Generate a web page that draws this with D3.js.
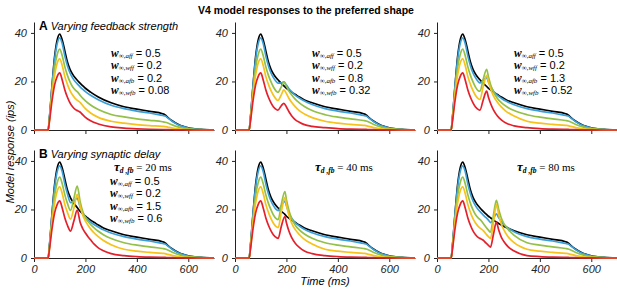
<!DOCTYPE html>
<html>
<head>
<meta charset="utf-8">
<script src="https://cdnjs.cloudflare.com/ajax/libs/d3/7.8.5/d3.min.js"></script>
<style>
body { margin: 0; background: #fff; }
</style>
</head>
<body>
<div id="chart"></div>
<script>
var sans = '"Liberation Sans", Arial, sans-serif';
var serif = '"Liberation Serif", "DejaVu Serif", serif';

// colours: no extra feedback, then increasing feedforward/feedback strength
var colours = ['#000000', '#3a9fd8', '#93c047', '#f7c219', '#e4202a'];

// shared onset (ms) and values
var riseT = [0, 50, 55, 60, 70, 80, 90, 100];
var riseVals = [
    [0, 0, 0, 5, 18, 30, 37, 39.5],
    [0, 0, 0, 5, 18, 29, 35.5, 38],
    [0, 0, 0, 4.5, 16, 25.5, 31, 33.3],
    [0, 0, 0, 4, 14.5, 22.5, 27.5, 29.3],
    [0, 0, 0, 3.5, 12, 18.5, 22, 23.5]
];

// offset decay (ms)
var tailT = [350, 400, 450, 500, 510, 520, 540, 560, 580, 600, 650, 700];
var tailA = [
    [9.6, 8.6, 7.7, 6.7, 6.2, 5.2, 3.6, 2.4, 1.5, 0.9, 0.25, 0.05],
    [8.8, 7.8, 7.0, 6.0, 5.8, 5.0, 3.4, 2.2, 1.4, 0.8, 0.2, 0.04],
    [5.4, 4.6, 4.0, 3.4, 3.2, 2.9, 2.0, 1.3, 0.8, 0.5, 0.12, 0.02],
    [2.8, 2.2, 1.8, 1.5, 1.4, 1.2, 0.8, 0.5, 0.3, 0.18, 0.04, 0],
    [0.8, 0.5, 0.3, 0.2, 0.18, 0.15, 0.1, 0.06, 0.04, 0.02, 0, 0]
];
var tailFb = [
    [9.6, 8.6, 7.7, 6.7, 6.2, 5.2, 3.6, 2.4, 1.5, 0.9, 0.25, 0.05],
    [8.8, 7.8, 7.0, 6.0, 5.8, 5.0, 3.4, 2.2, 1.4, 0.8, 0.2, 0.04],
    [6.3, 5.3, 4.6, 3.9, 3.7, 3.3, 2.3, 1.5, 0.9, 0.55, 0.13, 0.02],
    [3.6, 2.8, 2.3, 1.9, 1.8, 1.5, 1.0, 0.6, 0.38, 0.22, 0.05, 0],
    [1.0, 0.6, 0.38, 0.25, 0.22, 0.18, 0.12, 0.07, 0.04, 0.02, 0, 0]
];

// middle part of each panel (ms and ips)
var timesA = [110, 120, 130, 140, 150, 160, 170, 180, 190, 200, 220, 250, 300];
var midA = [
    [37, 32.5, 28, 25, 23, 21.5, 20.3, 19.2, 18.2, 17.2, 15.6, 13.6, 11.2],
    [35.5, 30.5, 26.5, 23.5, 21.5, 20, 18.8, 17.7, 16.7, 15.8, 14.3, 12.5, 10.2],
    [30.5, 26, 22.5, 19.8, 17.8, 16.5, 15.6, 14.2, 13, 12, 10.3, 8.4, 6.4],
    [26.5, 22, 18.8, 16.2, 14.4, 13, 12.1, 11.3, 10, 8.8, 7, 5.2, 3.6],
    [20.5, 16.5, 13.5, 11.2, 9.6, 8.5, 7.9, 7.3, 6.2, 5.2, 3.8, 2.5, 1.3]
];

var timesB = [110, 120, 130, 140, 150, 160, 167, 180, 190, 200, 210, 220, 235, 250, 270, 300];
var midB = [
    [37, 32.5, 28, 25, 23, 21.5, 20.7, 19.2, 18.2, 17.2, 16.4, 15.6, 14.6, 13.6, 12.4, 11.2],
    [35.5, 30.5, 26.5, 23.5, 21.5, 20, 19.3, 19.4, 19.8, 18.5, 17, 15.8, 14.3, 13.2, 11.9, 10.5],
    [30.5, 26, 22.5, 19.8, 17.6, 16, 15.5, 17.8, 19.8, 18, 16, 14.5, 12.6, 11.2, 9.7, 8.0],
    [26.5, 22, 18.8, 16.2, 14.2, 12.7, 12.2, 14.5, 16.5, 15, 13, 11.4, 9.5, 8, 6.6, 5.1],
    [20.5, 16.5, 13.5, 11.2, 9.5, 8.5, 8.2, 10, 11, 9.5, 7.5, 5.9, 4.2, 3.2, 2.2, 1.5]
];

var timesC = [110, 120, 130, 140, 150, 160, 167, 180, 193, 200, 210, 220, 235, 250, 270, 300];
var midC = [
    [37, 32.5, 28, 25, 23, 21.5, 20.7, 19.2, 18, 17.2, 16.4, 15.6, 14.6, 13.6, 12.4, 11.2],
    [35.5, 30.5, 26.5, 23.5, 21.5, 20, 19.4, 20.5, 21.6, 19.8, 17.6, 16, 14.3, 13.1, 11.8, 10.4],
    [30.5, 26, 22.5, 19.8, 17.6, 16.2, 16, 21, 25, 22, 18.2, 15.6, 13, 11.3, 9.7, 8],
    [26.5, 22, 18.8, 16.2, 14.2, 12.9, 12.6, 18, 22.5, 20, 16.5, 14, 11.4, 9.5, 7.6, 5.8],
    [20.5, 16.5, 13.5, 11.2, 9.5, 8.5, 8.2, 12.5, 16, 13.5, 10.5, 8.2, 5.8, 4.2, 2.8, 1.7]
];

var timesD = [110, 120, 130, 142, 155, 168, 180, 190, 200, 210, 220, 235, 250, 270, 300];
var midD = [
    [37, 32.5, 28, 24.8, 22.6, 20.8, 19.2, 18.2, 17.2, 16.4, 15.6, 14.6, 13.6, 12.4, 11.2],
    [35.5, 30.5, 26.5, 22.8, 23.3, 24.7, 20.8, 18.5, 16.9, 15.8, 14.8, 13.7, 12.8, 11.6, 10.3],
    [30.5, 26, 22.5, 19.6, 24.5, 29.6, 23, 19, 16.5, 15, 13.8, 12.3, 11, 9.6, 8],
    [26.5, 22, 18.8, 16, 20.5, 26.2, 21, 17.5, 15.2, 13.5, 12, 10.2, 8.8, 7.2, 5.5],
    [20.5, 16.5, 13.5, 11.1, 15.2, 19.7, 14.5, 12, 10.3, 8.8, 7.5, 5.6, 4.2, 3, 1.8]
];

var timesE = [110, 120, 130, 140, 150, 160, 168, 180, 194, 200, 210, 220, 235, 250, 270, 300];
var midE = [
    [37, 32.5, 28, 25, 23, 21.5, 20.6, 19.2, 18, 17.2, 16.4, 15.6, 14.6, 13.6, 12.4, 11.2],
    [35.5, 30.5, 26.5, 23.5, 21.5, 20, 19.5, 21.5, 23.4, 21.5, 18.5, 16.5, 14.5, 13.2, 11.8, 10.4],
    [30.5, 26, 22.5, 19.8, 17.6, 16.2, 15.8, 22, 27.4, 24, 19.5, 16.3, 13.4, 11.6, 9.9, 8.1],
    [26.5, 22, 18.8, 16.2, 14.2, 12.9, 12.5, 19, 25, 22, 17.5, 14.5, 11.6, 9.7, 7.7, 5.8],
    [20.5, 16.5, 13.5, 11.2, 9.5, 8.5, 8.1, 13, 17.1, 14.5, 11, 8.5, 6, 4.4, 2.9, 1.8]
];

var timesF = [110, 120, 130, 140, 150, 160, 170, 180, 190, 200, 208, 220, 231, 240, 250, 260, 275, 300];
var midF = [
    [37, 32.5, 28, 25, 23, 21.5, 20.3, 19.2, 18.2, 17.2, 16.6, 15.6, 14.8, 14.2, 13.6, 13, 12.3, 11.2],
    [35.5, 30.5, 26.5, 23.5, 21.5, 20, 18.8, 17.7, 16.7, 15.6, 14.6, 16.3, 18.2, 16.6, 15, 13.8, 12.5, 10.8],
    [30.5, 26, 22.5, 19.8, 17.8, 16.5, 15.6, 14.2, 12.8, 11.5, 10.6, 18, 23.8, 20, 16.5, 14.2, 12, 9.3],
    [26.5, 22, 18.8, 16.2, 14.4, 13, 12.1, 11.3, 10, 8.8, 8.1, 15, 22, 17.8, 14, 11.6, 9, 6.3],
    [20.5, 16.5, 13.5, 11.2, 9.6, 8.5, 7.9, 7.3, 6.2, 5.2, 4.5, 10, 14.8, 11.5, 8.6, 6.8, 4.8, 2.9]
];

// parameter labels
var wSubs = ['∞,aff', '∞,wff', '∞,afb', '∞,wfb'];
var wTop = [['0.5', '0.2', '0.2', '0.08'], ['0.5', '0.2', '0.8', '0.32'], ['0.5', '0.2', '1.3', '0.52']];
var wBottom = ['0.5', '0.2', '1.5', '0.6'];
var delays = [20, 40, 80];
var xTicks = [0, 200, 400, 600];
var yTicks = [0, 20, 40];

var panels = [
    [timesA, midA, tailA], [timesB, midB, tailFb], [timesC, midC, tailFb],
    [timesD, midD, tailFb], [timesE, midE, tailFb], [timesF, midF, tailFb]
];

var W = 617, H = 289;
var svg = d3.select('#chart').append('svg').attr('width', W).attr('height', H)
    .style('font-family', sans);

var panelX = [34, 235, 437];
var panelY = [22, 150];
var pw = 180, ph = 108;

var x = d3.scaleLinear().domain([0, 700]).range([0, pw]);
var y = d3.scaleLinear().domain([0, 44.5]).range([ph, 0]);

svg.append('text')
    .attr('x', 306).attr('y', 14)
    .attr('text-anchor', 'middle')
    .attr('font-weight', 'bold')
    .attr('font-size', 10.5)
    .text('V4 model responses to the preferred shape');

svg.append('text')
    .attr('transform', 'translate(14,152) rotate(-90)')
    .attr('text-anchor', 'middle')
    .attr('font-style', 'italic')
    .attr('font-size', 11)
    .text('Model response (ips)');

svg.append('text')
    .attr('x', 325).attr('y', 285)
    .attr('text-anchor', 'middle')
    .attr('font-style', 'italic')
    .attr('font-size', 11)
    .text('Time (ms)');

panels.forEach(function(p, i) {
    var r = Math.floor(i / 3), c = i % 3;
    var t = riseT.concat(p[0], tailT);
    var g = svg.append('g').attr('transform', 'translate(' + panelX[c] + ',' + panelY[r] + ')');

    var xa = g.append('g').attr('transform', 'translate(0,' + ph + ')')
        .call(d3.axisBottom(x).tickValues(xTicks).tickSize(4).tickSizeOuter(0)
            .tickFormat(r == 1 ? d3.format('d') : ''));
    var ya = g.append('g')
        .call(d3.axisLeft(y).tickValues(yTicks).tickSize(3).tickSizeOuter(0));
    [xa, ya].forEach(function(a) {
        a.attr('font-family', null);
        a.selectAll('text').attr('font-size', 11).attr('font-style', 'italic').attr('fill', '#222');
        a.selectAll('path, line').attr('stroke', '#222');
    });
    ya.selectAll('text').attr('dx', '-0.1em');

    var line = d3.line()
        .x(function(d, j) { return x(t[j]); })
        .y(function(d) { return y(d); })
        .curve(d3.curveMonotoneX);

    colours.forEach(function(col, k) {
        g.append('path')
            .datum(riseVals[k].concat(p[1][k], p[2][k]))
            .attr('d', line)
            .attr('fill', 'none')
            .attr('stroke', col)
            .attr('stroke-width', 1.7)
            .attr('stroke-linejoin', 'round');
    });
});

// panel headings
function heading(letter, label, yy) {
    var t = svg.append('text').attr('x', 39).attr('y', yy).attr('font-size', 11);
    t.append('tspan').attr('font-weight', 'bold').attr('font-size', 12).text(letter);
    t.append('tspan').attr('dx', 3).attr('font-style', 'italic').text(label);
}
heading('A', 'Varying feedback strength', 30);
heading('B', 'Varying synaptic delay', 158);

function wLine(xx, yy, sub, val) {
    var t = svg.append('text').attr('x', xx).attr('y', yy).attr('font-size', 11);
    t.append('tspan').attr('font-family', serif)
        .attr('font-weight', 'bold').attr('font-style', 'italic').attr('font-size', 11.5).text('w');
    t.append('tspan').attr('font-family', serif)
        .attr('font-style', 'italic').attr('font-size', 7).attr('dy', 1).text(sub);
    t.append('tspan').attr('dy', -1).text(' = ' + val);
}

function tauLine(xx, yy, val) {
    var t = svg.append('text').attr('x', xx).attr('y', yy)
        .attr('font-family', serif).attr('font-size', 11);
    t.append('tspan').attr('font-weight', 'bold').attr('font-style', 'italic').attr('font-size', 13).text('τ');
    t.append('tspan').attr('font-weight', 'bold').attr('font-style', 'italic').attr('font-size', 7.5).attr('dy', 1.5).text('d ,fb');
    t.append('tspan').attr('dy', -1.5).text(' = ' + val + ' ms');
}

wTop.forEach(function(vals, c) {
    vals.forEach(function(v, k) {
        wLine(panelX[c] + 77, 57 + k * 12.4, wSubs[k], v);
    });
});
wBottom.forEach(function(v, k) {
    wLine(panelX[0] + 76, 185 + k * 12.4, wSubs[k], v);
});
delays.forEach(function(d, c) {
    tauLine(panelX[c] + 80, 171, d);
});
</script>
</body>
</html>
